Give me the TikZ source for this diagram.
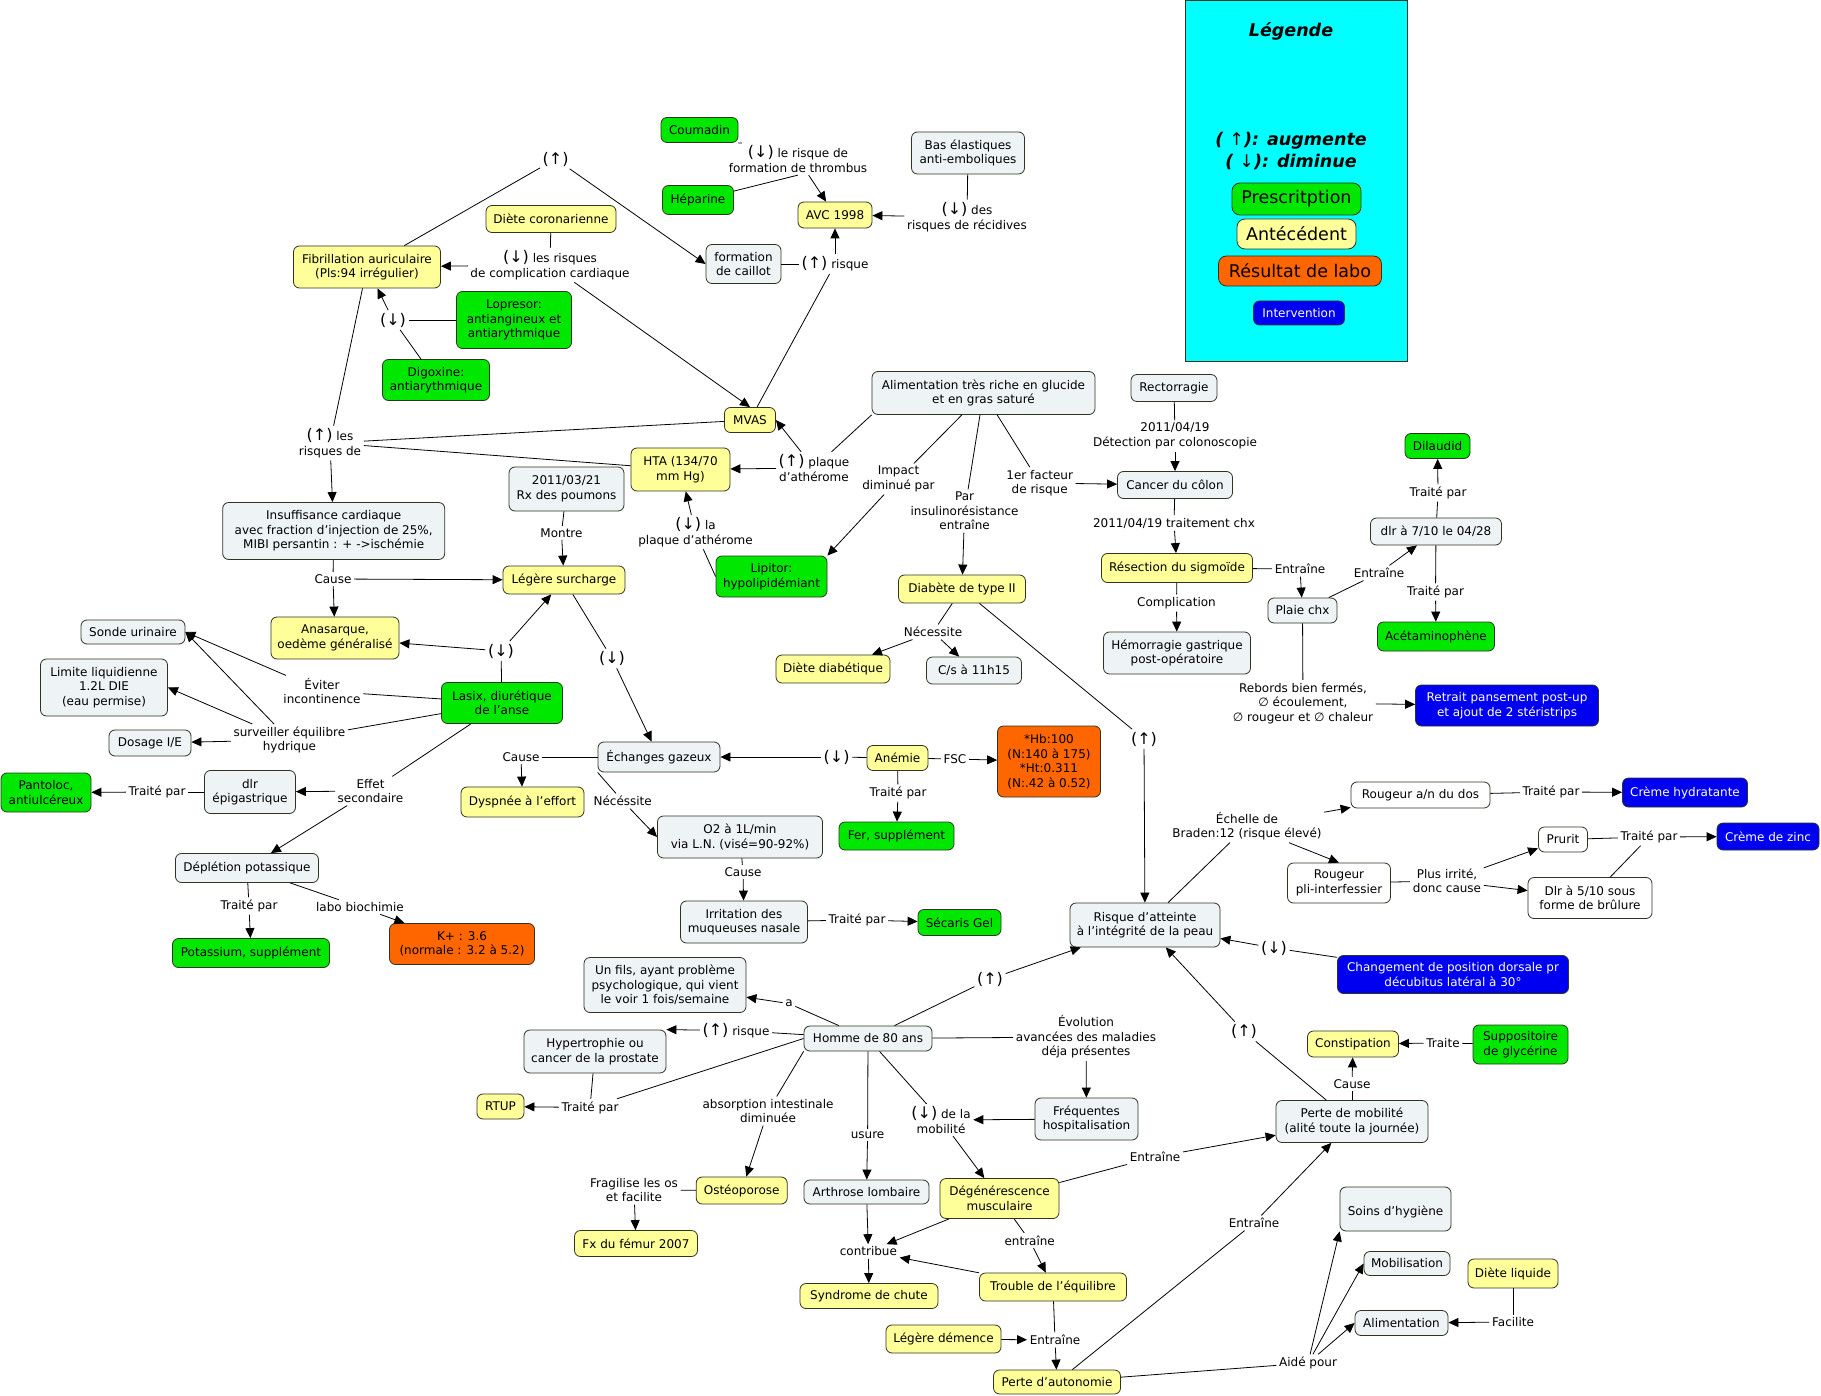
\documentclass[tikz,border=0pt]{standalone}
\usepackage{fontspec}
\setmainfont{DejaVu Sans}
\usetikzlibrary{arrows.meta}
\definecolor{cgry}{HTML}{EEF3F5}
\definecolor{cyel}{HTML}{FFFF99}
\definecolor{cgrn}{HTML}{00E800}
\definecolor{corg}{HTML}{FF6600}
\definecolor{cblu}{HTML}{0000F0}
\definecolor{ccyan}{HTML}{00FFFF}
\definecolor{bord}{HTML}{2F3322}
\newcommand{\aU}{{\fontsize{16}{16}\selectfont(↑)}}
\newcommand{\aD}{{\fontsize{16}{16}\selectfont(↓)}}
\begin{document}
\begin{tikzpicture}[x=1pt,y=-1pt,
  every node/.style={font=\fontsize{12}{14.5}\selectfont},
  box/.style={draw=bord, line width=0.8pt, rounded corners=6pt, align=center, inner sep=2pt},
  gry/.style={box, fill=cgry},
  yel/.style={box, fill=cyel},
  grn/.style={box, fill=cgrn},
  org/.style={box, fill=corg},
  blu/.style={box, fill=cblu, text=white},
  wht/.style={box, fill=white},
  sz/.style 2 args={minimum width=#1pt, minimum height=#2pt},
  lbl/.style={align=center, inner sep=2.5pt},
  con/.style={line width=0.8pt, draw=black},
  arr/.style={con, -{Triangle[length=10pt,width=9pt]}},
  lgf/.style={font=\fontsize{17.5}{20}\selectfont, rounded corners=8pt}
]
\useasboundingbox (0,0) rectangle (1821,1396);
\fill[white] (0,0) rectangle (1821,1396);

% ---------- legend ----------
\node[draw=bord, fill=ccyan, line width=0.8pt, minimum width=222pt, minimum height=361pt, inner sep=0pt, anchor=north west] (leg) at (1184.5,0.5) {};
\node[font=\bfseries\itshape\fontsize{17.5}{21}\selectfont] (legt) at (1291,31) {Légende};
\node[align=center, font=\bfseries\itshape\fontsize{17.5}{22}\selectfont] (legk) at (1291,151) {( {\mdseries\upshape ↑}): augmente\\( {\mdseries\upshape ↓}): diminue};
\node[grn, sz={129}{32}, lgf] (lgp) at (1296.5,199) {Prescritption};
\node[yel, sz={119}{30}, lgf] (lga) at (1296.5,234) {Antécédent};
\node[org, sz={163}{30}, lgf] (lgr) at (1300,271) {Résultat de labo};
\node[blu, sz={91}{24}] (lgi) at (1299,313) {Intervention};

% ---------- concept boxes ----------
\node[yel, sz={147}{42}] (fib) at (367,267) {Fibrillation auriculaire\\(Pls:94 irrégulier)};
\node[yel, sz={130}{27}] (dcor) at (551,219) {Diète coronarienne};
\node[grn, sz={115}{57}] (lop) at (514,320) {Lopresor:\\antiangineux et\\antiarythmique};
\node[grn, sz={107}{41}] (dig) at (436,380) {Digoxine:\\antiarythmique};
\node[grn, sz={77}{25}] (coum) at (699.5,130) {Coumadin};
\node[grn, sz={71}{29}] (hep) at (698,200) {Héparine};
\node[yel, sz={74}{26}] (avc) at (835,215) {AVC 1998};
\node[gry, sz={113}{42}] (bas) at (968,153) {Bas élastiques\\anti-emboliques};
\node[gry, sz={75}{39}] (cail) at (743.5,264) {formation\\de caillot};
\node[yel, sz={51}{25}] (mvas) at (750,420) {MVAS};
\node[gry, sz={223}{43}] (alim) at (983.5,393) {Alimentation très riche en glucide\\et en gras saturé};
\node[gry, sz={86}{27}] (rect) at (1174,388) {Rectorragie};
\node[yel, sz={99}{43}] (hta) at (680.5,469.5) {HTA (134/70\\mm Hg)};
\node[grn, sz={111}{41}] (lip) at (771.5,576.5) {Lipitor:\\hypolipidémiant};
\node[gry, sz={115}{44}] (rx) at (566.5,489) {2011/03/21\\Rx des poumons};
\node[gry, sz={222}{57}] (ins) at (333.7,531) {Insuffisance cardiaque\\avec fraction d’injection de 25\%,\\MIBI persantin : + ->ischémie};
\node[yel, sz={122}{28}] (surch) at (564,580) {Légère surcharge};
\node[yel, sz={128}{42}] (anas) at (335,638) {Anasarque,\\oedème généralisé};
\node[grn, sz={121}{41}] (lasix) at (502,703) {Lasix, diurétique\\de l'anse};
\node[gry, sz={104}{24}] (sonde) at (133,632) {Sonde urinaire};
\node[gry, sz={127}{57}] (limite) at (104,687.5) {Limite liquidienne\\1.2L DIE\\(eau permise)};
\node[gry, sz={82}{26}] (dosage) at (150,743) {Dosage I/E};
\node[grn, sz={90}{39}] (panto) at (46,792.5) {Pantoloc,\\antiulcéreux};
\node[gry, sz={91}{43}] (dlrepi) at (250,792) {dlr\\épigastrique};
\node[gry, sz={143}{29}] (depl) at (247,868) {Déplétion potassique};
\node[org, sz={145}{41}] (kplus) at (462,944) {K+ : 3.6\\(normale : 3.2 à 5.2)};
\node[grn, sz={157}{29}] (potas) at (251,953) {Potassium, supplément};
\node[yel, sz={127}{28}] (diab) at (962,589) {Diabète de type II};
\node[yel, sz={114}{28}] (dd) at (833,669) {Diète diabétique};
\node[gry, sz={95}{27}] (cs) at (974,670.5) {C/s à 11h15};
\node[gry, sz={115}{27}] (cancer) at (1175,485) {Cancer du côlon};
\node[yel, sz={151}{29}] (resec) at (1177,568) {Résection du sigmoïde};
\node[gry, sz={147}{42}] (hemo) at (1177,653) {Hémorragie gastrique\\post-opératoire};
\node[gry, sz={69}{25}] (plaie) at (1302.5,610.5) {Plaie chx};
\node[gry, sz={131}{27}] (dlr7) at (1436,531.5) {dlr à 7/10 le 04/28};
\node[grn, sz={65}{25}] (dilau) at (1437.5,446) {Dilaudid};
\node[grn, sz={117}{29}] (aceta) at (1436,636.5) {Acétaminophène};
\node[blu, sz={183}{41}] (retrait) at (1507,705.5) {Retrait pansement post-up\\et ajout de 2 stéristrips};
\node[gry, sz={122}{30}] (echg) at (659,757) {Échanges gazeux};
\node[yel, sz={123}{30}] (dysp) at (522.5,802) {Dyspnée à l'effort};
\node[gry, sz={165}{42}] (o2) at (740,837) {O2 à 1L/min\\via L.N. (visé=90-92\%)};
\node[yel, sz={61}{25}] (anem) at (897.5,758) {Anémie};
\node[org, sz={103}{71}] (hb) at (1049,761.5) {*Hb:100\\(N:140 à 175)\\*Ht:0.311\\(N:.42 à 0.52)};
\node[grn, sz={115}{28}] (fer) at (896.5,836) {Fer, supplément};
\node[gry, sz={127}{42}] (irrit) at (744,922) {Irritation des\\muqueuses nasale};
\node[grn, sz={83}{26}] (seca) at (959.5,922.5) {Sécaris Gel};
\node[gry, sz={150}{44}] (risque) at (1145,925) {Risque d'atteinte\\à l'intégrité de la peau};
\node[wht, sz={139}{26}] (rdos) at (1420.5,795) {Rougeur a/n du dos};
\node[blu, sz={125}{29}] (hydr) at (1685,792.5) {Crème hydratante};
\node[wht, sz={49}{25}] (prurit) at (1563,839.5) {Prurit};
\node[blu, sz={102}{27}] (zinc) at (1768,836.5) {Crème de zinc};
\node[wht, sz={103}{40}] (rpli) at (1339,883) {Rougeur\\pli-interfessier};
\node[wht, sz={124}{41}] (dlr5) at (1590,898) {Dlr à 5/10 sous\\forme de brûlure};
\node[blu, sz={231}{38}] (chg) at (1453,974.5) {Changement de position dorsale pr\\décubitus latéral à 30°};
\node[gry, sz={162}{55}] (fils) at (665,985) {Un fils, ayant problème\\psychologique, qui vient\\le voir 1 fois/semaine};
\node[gry, sz={128}{25}] (homme) at (868,1038.5) {Homme de 80 ans};
\node[gry, sz={142}{43}] (hyp) at (595,1051.5) {Hypertrophie ou\\cancer de la prostate};
\node[yel, sz={47}{25}] (rtup) at (500.5,1106.5) {RTUP};
\node[gry, sz={103}{42}] (freq) at (1086.5,1119) {Fréquentes\\hospitalisation};
\node[yel, sz={91}{27}] (osteo) at (741.7,1190.5) {Ostéoporose};
\node[yel, sz={123}{26}] (fx) at (636,1243.5) {Fx du fémur 2007};
\node[gry, sz={125}{24}] (arth) at (866.5,1192) {Arthrose lombaire};
\node[yel, sz={119}{40}] (degen) at (999.5,1198.5) {Dégénérescence\\musculaire};
\node[yel, sz={138}{25}] (chute) at (869,1296) {Syndrome de chute};
\node[yel, sz={147}{28}] (troub) at (1053,1287) {Trouble de l'équilibre};
\node[yel, sz={115}{28}] (dem) at (943.5,1339) {Légère démence};
\node[yel, sz={127}{24}] (auto) at (1057,1382) {Perte d'autonomie};
\node[yel, sz={91}{26}] (const) at (1353,1044) {Constipation};
\node[grn, sz={95}{39}] (supp) at (1520.5,1044.5) {Suppositoire\\de glycérine};
\node[gry, sz={152}{42}] (pmob) at (1352,1121.5) {Perte de mobilité\\(alité toute la journée)};
\node[gry, sz={111}{44}] (soins) at (1395.5,1209) {\mbox{}\\Soins d'hygiène};
\node[gry, sz={86}{24}] (mobil) at (1407,1263.5) {Mobilisation};
\node[yel, sz={90}{29}] (dliq) at (1513,1273.5) {Diète liquide};
\node[gry, sz={93}{25}] (alim2) at (1401.5,1323) {Alimentation};

% ---------- linking phrases ----------
\node[lbl] (l1) at (555.6,159) {\aU};
\node[lbl] (l2) at (550,265) {\aD{} les risques\\de complication cardiaque};
\node[lbl] (l3) at (393,320) {\aD};
\node[lbl] (l4) at (330,443) {\aU{} les\\risques de};
\node[lbl] (l5) at (798,159) {\aD{} le risque de\\formation de thrombus};
\node[lbl] (l6) at (967,217) {\aD{} des\\risques de récidives};
\node[lbl] (l7) at (835,264) {\aU{} risque};
\node[lbl] (l8) at (814,468) {\aU{} plaque\\d'athérome};
\node[lbl] (l9) at (695.5,532) {\aD{} la\\plaque d'athérome};
\node[lbl] (l10) at (898.5,479) {Impact\\diminué par};
\node[lbl] (l11) at (964.6,511) {Par\\insulinorésistance\\entraîne};
\node[lbl] (l12) at (1039.7,483) {1er facteur\\de risque};
\node[lbl] (l13) at (1175,436) {2011/04/19\\Détection par colonoscopie};
\node[lbl] (l14) at (1174,523) {2011/04/19 traitement chx};
\node[lbl] (l15) at (1176.5,603) {Complication};
\node[lbl] (l16) at (1300,569) {Entraîne};
\node[lbl] (l17) at (1379,573) {Entraîne};
\node[lbl] (l18) at (1438,493) {Traité par};
\node[lbl] (l19) at (1435.5,592) {Traité par};
\node[lbl] (l20) at (1303,703) {Rebords bien fermés,\\∅ écoulement,\\∅ rougeur et ∅ chaleur};
\node[lbl] (l21) at (1144,739) {\aU};
\node[lbl] (l22) at (933,632) {Nécessite};
\node[lbl] (l23) at (561.5,533) {Montre};
\node[lbl] (l24) at (333,579) {Cause};
\node[lbl] (l25) at (501,651) {\aD};
\node[lbl] (l26) at (612,658.5) {\aD};
\node[lbl] (l27) at (836.6,757) {\aD};
\node[lbl] (l28) at (955,759) {FSC};
\node[lbl] (l29) at (898,793) {Traité par};
\node[lbl] (l30) at (521,757) {Cause};
\node[lbl] (l31) at (622.7,801) {Nécéssite};
\node[lbl] (l32) at (743,872) {Cause};
\node[lbl] (l33) at (857,920) {Traité par};
\node[lbl] (l34) at (322,691) {Éviter\\incontinence};
\node[lbl] (l35) at (289.4,740) {surveiller équilibre\\hydrique};
\node[lbl] (l36) at (370.5,791) {Effet\\secondaire};
\node[lbl] (l37) at (157,792) {Traité par};
\node[lbl] (l38) at (249,906) {Traité par};
\node[lbl] (l39) at (360,907) {labo biochimie};
\node[lbl] (l40) at (789,1003.6) {a};
\node[lbl] (l41) at (990,979) {\aU};
\node[lbl] (l42) at (736,1030.6) {\aU{} risque};
\node[lbl] (l43) at (590,1107.5) {Traité par};
\node[lbl] (l44) at (768,1111) {absorption intestinale\\diminuée};
\node[lbl] (l45) at (867.6,1135) {usure};
\node[lbl] (l46) at (941,1120) {\aD{} de la\\mobilité};
\node[lbl] (l47) at (1086,1037) {Évolution\\avancées des maladies\\déja présentes};
\node[lbl] (l48) at (634,1190) {Fragilise les os\\et facilite};
\node[lbl] (l49) at (868.4,1251.5) {contribue};
\node[lbl] (l50) at (1029.7,1240.5) {entraîne};
\node[lbl] (l51) at (1155,1157) {Entraîne};
\node[lbl] (l52) at (1055,1340) {Entraîne};
\node[lbl] (l53) at (1254,1223) {Entraîne};
\node[lbl] (l54) at (1308,1363) {Aidé pour};
\node[lbl] (l55) at (1513,1322) {Facilite};
\node[lbl] (l56) at (1352,1084) {Cause};
\node[lbl] (l57) at (1443,1043) {Traite};
\node[lbl] (l58) at (1244,1031.6) {\aU};
\node[lbl] (l59) at (1274,948) {\aD};
\node[lbl] (l60) at (1247,826) {Échelle de\\Braden:12 (risque élevé)};
\node[lbl] (l61) at (1551,792) {Traité par};
\node[lbl] (l62) at (1447,881) {Plus irrité,\\donc cause};
\node[lbl] (l63) at (1649,837) {Traité par};
\coordinate (c5) at (742,143);

% ---------- connectors ----------
\draw[con] (fib) -- (l1);  \draw[arr] (l1) -- (cail.west);
\draw[con] (dcor) -- (l2); \draw[arr] (l2) -- (fib); \draw[arr] (l2) -- (mvas.north);
\draw[con] (lop) -- (l3);  \draw[con] (dig) -- (l3); \draw[arr] (l3) -- (fib);
\draw[con] (fib) -- (l4);  \draw[con] (mvas) -- (l4); \draw[con] (hta) -- (l4); \draw[arr] (l4) -- (ins);
\draw[con] (coum.south east) -- (c5); \draw[con] (hep) -- (l5.south); \draw[arr] (l5) -- (avc);
\draw[con] (bas) -- (l6);  \draw[arr] (l6) -- (avc);
\draw[con] (cail) -- (l7); \draw[con] (mvas) -- (l7); \draw[arr] (l7) -- (avc);
\draw[con] (alim.south west) -- (l8); \draw[arr] (l8) -- (mvas.east); \draw[arr] (l8) -- (hta);
\draw[con] (lip.west) -- (l9); \draw[arr] (l9) -- (hta);
\draw[con] (alim) -- (l10); \draw[arr] (l10) -- (lip.north east);
\draw[con] (alim) -- (l11); \draw[arr] (l11) -- (diab);
\draw[con] (alim) -- (l12); \draw[arr] (l12) -- (cancer);
\draw[con] (rect) -- (l13); \draw[arr] (l13) -- (cancer);
\draw[con] (cancer) -- (l14); \draw[arr] (l14) -- (resec);
\draw[con] (resec) -- (l15); \draw[arr] (l15) -- (hemo);
\draw[con] (resec) -- (l16); \draw[arr] (l16) -- (plaie);
\draw[con] (plaie) -- (l17); \draw[arr] (l17) -- (dlr7);
\draw[con] (dlr7) -- (l18); \draw[arr] (l18) -- (dilau);
\draw[con] (dlr7) -- (l19); \draw[arr] (l19) -- (aceta);
\draw[con] (plaie) -- (l20); \draw[arr] (l20) -- (retrait);
\draw[con] (diab) -- (l21); \draw[arr] (l21) -- (risque);
\draw[con] (diab) -- (l22); \draw[arr] (l22) -- (dd); \draw[arr] (l22) -- (cs);
\draw[con] (rx) -- (l23); \draw[arr] (l23) -- (surch);
\draw[con] (ins) -- (l24); \draw[arr] (l24) -- (anas); \draw[arr] (l24) -- (surch);
\draw[con] (lasix) -- (l25); \draw[arr] (l25) -- (anas); \draw[arr] (l25) -- (surch);
\draw[con] (surch) -- (l26); \draw[arr] (l26) -- (echg);
\draw[con] (anem) -- (l27); \draw[arr] (l27) -- (echg);
\draw[con] (anem) -- (l28); \draw[arr] (l28) -- (hb);
\draw[con] (anem) -- (l29); \draw[arr] (l29) -- (fer);
\draw[con] (echg) -- (l30); \draw[arr] (l30) -- (dysp);
\draw[con] (echg.south west) -- (l31); \draw[arr] (l31) -- (o2.west);
\draw[con] (o2) -- (l32); \draw[arr] (l32) -- (irrit);
\draw[con] (irrit) -- (l33); \draw[arr] (l33) -- (seca);
\draw[con] (lasix) -- (l34); \draw[arr] (l34) -- (sonde.east);
\draw[con] (lasix) -- (l35); \draw[arr] (l35) -- (sonde.east); \draw[arr] (l35) -- (limite.east); \draw[arr] (l35) -- (dosage);
\draw[con] (lasix) -- (l36); \draw[arr] (l36) -- (dlrepi); \draw[arr] (l36) -- (depl);
\draw[con] (dlrepi) -- (l37); \draw[arr] (l37) -- (panto);
\draw[con] (depl) -- (l38); \draw[arr] (l38) -- (potas);
\draw[con] (depl) -- (l39); \draw[arr] (l39) -- (kplus);
\draw[con] (homme) -- (l40); \draw[arr] (l40) -- (fils);
\draw[con] (homme) -- (l41); \draw[arr] (l41) -- (risque);
\draw[con] (homme) -- (l42); \draw[arr] (l42) -- (hyp.north east);
\draw[con] (hyp) -- (l43); \draw[con] (homme.west) -- (l43); \draw[arr] (l43) -- (rtup);
\draw[con] (homme.south west) -- (l44); \draw[arr] (l44) -- (osteo);
\draw[con] (homme) -- (l45); \draw[arr] (l45) -- (arth);
\draw[con] (homme) -- (l46); \draw[arr] (freq) -- (l46); \draw[arr] (l46) -- (degen);
\draw[con] (homme) -- (l47); \draw[arr] (l47) -- (freq);
\draw[con] (osteo) -- (l48); \draw[arr] (l48) -- (fx);
\draw[arr] (arth) -- (l49); \draw[arr] (degen) -- (l49); \draw[arr] (troub) -- (l49); \draw[arr] (l49) -- (chute);
\draw[con] (degen) -- (l50); \draw[arr] (l50) -- (troub);
\draw[con] (degen) -- (l51); \draw[arr] (l51) -- (pmob);
\draw[con] (troub) -- (l52); \draw[arr] (dem) -- (l52); \draw[arr] (l52) -- (auto);
\draw[con] (auto) -- (l53); \draw[arr] (l53) -- (pmob);
\draw[con] (auto) -- (l54); \draw[arr] (l54) -- (soins.south west); \draw[arr] (l54) -- (mobil.west); \draw[arr] (l54) -- (alim2.west);
\draw[con] (dliq) -- (l55); \draw[arr] (l55) -- (alim2);
\draw[con] (pmob) -- (l56); \draw[arr] (l56) -- (const);
\draw[con] (supp) -- (l57); \draw[arr] (l57) -- (const);
\draw[con] (pmob) -- (l58); \draw[arr] (l58) -- (risque);
\draw[con] (chg) -- (l59); \draw[arr] (l59) -- (risque);
\draw[con] (risque) -- (l60); \draw[arr] (l60) -- (rdos); \draw[arr] (l60) -- (rpli.north);
\draw[con] (rdos) -- (l61); \draw[arr] (l61) -- (hydr);
\draw[con] (rpli) -- (l62); \draw[arr] (l62) -- (prurit); \draw[arr] (l62) -- (dlr5);
\draw[con] (prurit) -- (l63); \draw[con] (dlr5) -- (l63); \draw[arr] (l63) -- (zinc);
\end{tikzpicture}
\end{document}
